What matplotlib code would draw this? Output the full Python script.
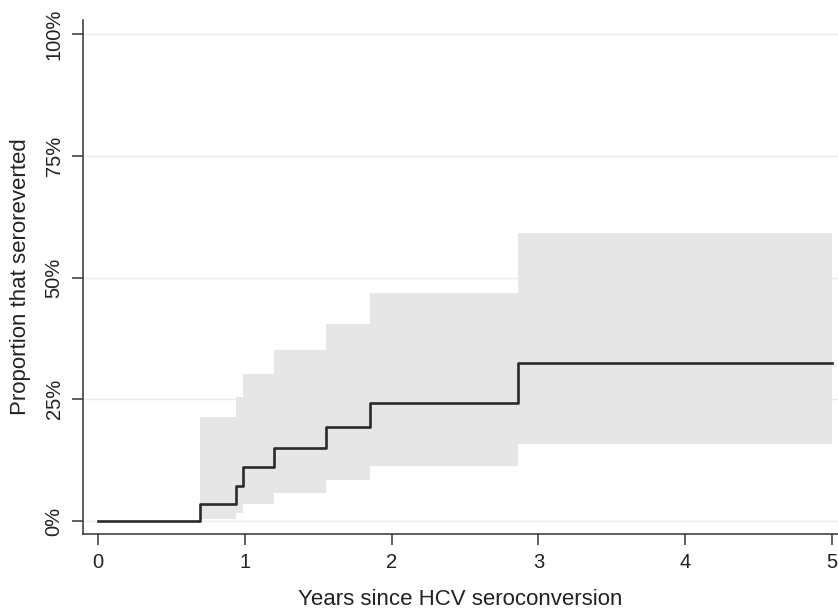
import matplotlib.pyplot as plt
from matplotlib.ticker import FuncFormatter

plt.rcParams['font.family'] = ['Liberation Sans', 'DejaVu Sans']

# Kaplan-Meier estimate (percent) with pointwise 95% CI
times = [0, 0.695, 0.938, 0.99, 1.199, 1.553, 1.853, 2.859, 5.0]
estimate = [0, 3.4, 7.2, 11.1, 15.0, 19.3, 24.2, 32.5, 32.5]

ci_times = [0.695, 0.938, 0.99, 1.199, 1.553, 1.853, 2.859, 5.0]
ci_upper = [21.4, 25.5, 30.3, 35.2, 40.4, 46.8, 59.2, 59.2]
ci_lower = [0.35, 1.7, 3.5, 5.8, 8.4, 11.3, 15.9, 15.9]

yticks = [0, 25, 50, 75, 100]
xticks = [0, 1, 2, 3, 4, 5]

fig = plt.figure(figsize=(8.38, 6.11), dpi=100)
ax = fig.add_axes([0.099, 0.126, 0.901, 0.841])

# gridlines
for y in yticks:
    ax.axhline(y, color='#e4eef0', lw=1.0, zorder=0)

# confidence band and survival step
ax.fill_between(ci_times, ci_lower, ci_upper, step='post',
                color='#e6e6e6', lw=0, zorder=1)
ax.step(times, estimate, where='post', color='#2b2b2b', lw=1.9, zorder=2)

ax.set_xlim(-0.102, 5.04)
ax.set_ylim(-2.67, 102.9)
ax.set_xticks(xticks)
ax.set_yticks(yticks)
ax.yaxis.set_major_formatter(FuncFormatter(lambda v, p: f'{int(v)}%'))

for lab in ax.get_yticklabels():
    lab.set_rotation(90)
    lab.set_va('center')

ax.tick_params(axis='both', length=8, width=1.1, color='#333333',
               labelsize=14.5, labelcolor='#222222', pad=6)

ax.spines['top'].set_visible(False)
ax.spines['right'].set_visible(False)
for s in ['left', 'bottom']:
    ax.spines[s].set_color('#333333')
    ax.spines[s].set_linewidth(1.1)

ax.set_xlabel('Years since HCV seroconversion', fontsize=16, color='#222222', labelpad=12)
ax.set_ylabel('Proportion that seroreverted', fontsize=16, color='#222222', labelpad=10)

fig.savefig('out.png', dpi=100)
